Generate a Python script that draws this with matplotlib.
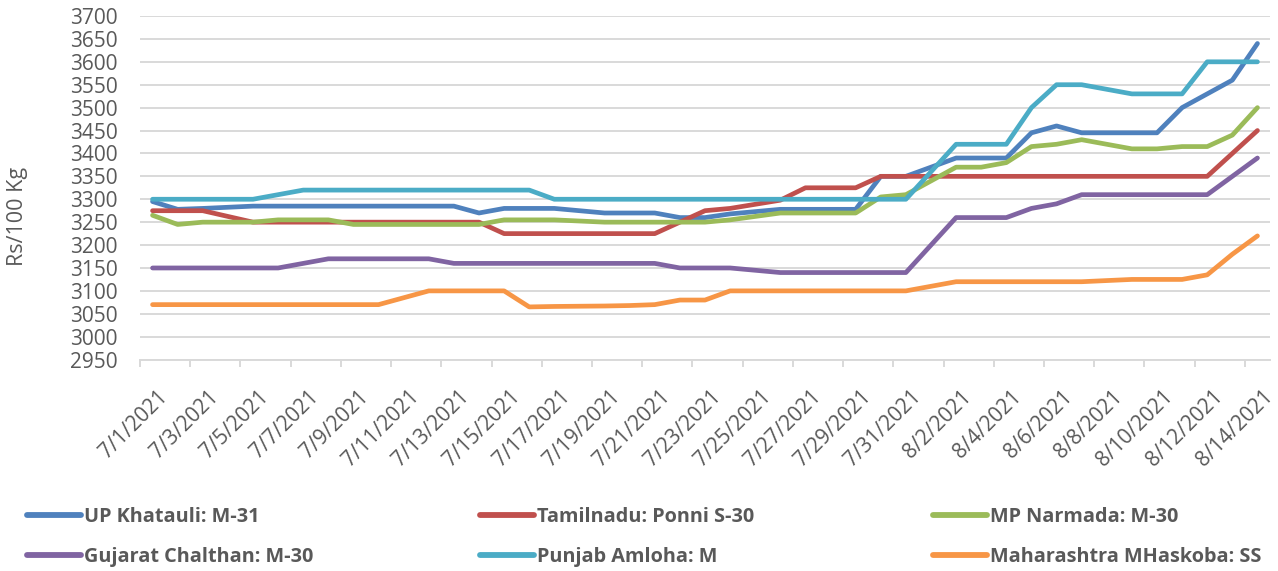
import numpy as np
import pandas as pd
import matplotlib
matplotlib.use('Agg')
import matplotlib.pyplot as plt
from matplotlib.lines import Line2D
from matplotlib.transforms import ScaledTranslation

# 일자 (일요일 제외)
dates = ['2021-07-01', '2021-07-02', '2021-07-03', '2021-07-05', '2021-07-06',
         '2021-07-07', '2021-07-08', '2021-07-09', '2021-07-10', '2021-07-12',
         '2021-07-13', '2021-07-14', '2021-07-15', '2021-07-16', '2021-07-17',
         '2021-07-19', '2021-07-20', '2021-07-21', '2021-07-22', '2021-07-23',
         '2021-07-24', '2021-07-26', '2021-07-27', '2021-07-28', '2021-07-29',
         '2021-07-30', '2021-07-31', '2021-08-02', '2021-08-03', '2021-08-04',
         '2021-08-05', '2021-08-06', '2021-08-07', '2021-08-09', '2021-08-10',
         '2021-08-11', '2021-08-12', '2021-08-13', '2021-08-14']

up_khatauli = [3295, 3278, 3280, 3285, 3285, 3285, 3285, 3285, 3285, 3285,
               3285, 3270, 3280, 3280, 3280, 3270, 3270, 3270, 3260, 3260,
               3268, 3278, 3278, 3278, 3278, 3350, 3350, 3390, 3390, 3390,
               3445, 3460, 3445, 3445, 3445, 3500, 3530, 3560, 3640]
tamilnadu = [3275, 3275, 3275, 3250, 3250, 3250, 3250, 3250, 3250, 3250,
             3250, 3250, 3225, 3225, 3225, 3225, 3225, 3225, 3250, 3275,
             3280, 3298, 3325, 3325, 3325, 3350, 3350, 3350, 3350, 3350,
             3350, 3350, 3350, 3350, 3350, 3350, 3350, 3400, 3450]
mp_narmada = [3265, 3245, 3250, 3250, 3255, 3255, 3255, 3245, 3245, 3245,
              3245, 3245, 3255, 3255, 3255, 3250, 3250, 3250, 3250, 3250,
              3255, 3270, 3270, 3270, 3270, 3305, 3310, 3370, 3370, 3380,
              3415, 3420, 3430, 3410, 3410, 3415, 3415, 3440, 3500]
gujarat = [3150, 3150, 3150, 3150, 3150, 3160, 3170, 3170, 3170, 3170,
           3160, 3160, 3160, 3160, 3160, 3160, 3160, 3160, 3150, 3150,
           3150, 3140, 3140, 3140, 3140, 3140, 3140, 3260, 3260, 3260,
           3280, 3290, 3310, 3310, 3310, 3310, 3310, 3350, 3390]
punjab = [3300, 3300, 3300, 3300, 3310, 3320, 3320, 3320, 3320, 3320,
          3320, 3320, 3320, 3320, 3300, 3300, 3300, 3300, 3300, 3300,
          3300, 3300, 3300, 3300, 3300, 3300, 3300, 3420, 3420, 3420,
          3500, 3550, 3550, 3530, 3530, 3530, 3600, 3600, 3600]
maharashtra = [3070, 3070, 3070, 3070, 3070, 3070, 3070, 3070, 3070, 3100,
               3100, 3100, 3100, 3065, 3066, 3067, 3068, 3070, 3080, 3080,
               3100, 3100, 3100, 3100, 3100, 3100, 3100, 3120, 3120, 3120,
               3120, 3120, 3120, 3125, 3125, 3125, 3135, 3180, 3220]

series = [
    ('UP Khatauli: M-31', up_khatauli, '#4F81BD'),
    ('Tamilnadu: Ponni S-30', tamilnadu, '#C0504D'),
    ('MP Narmada: M-30', mp_narmada, '#9BBB59'),
    ('Gujarat Chalthan: M-30', gujarat, '#8064A2'),
    ('Punjab Amloha: M', punjab, '#4BACC6'),
    ('Maharashtra MHaskoba: SS', maharashtra, '#F79646'),
]

gray = '#595959'
grid = '#D9D9D9'
plt.rcParams['font.family'] = ['Open Sans', 'DejaVu Sans']

x = pd.to_datetime(dates)
fig = plt.figure(figsize=(12.78, 5.71), dpi=100)
ax = fig.add_axes([140 / 1278, 1 - 359.6 / 571, 1130 / 1278, 343.6 / 571])

handles = {}
for name, vals, col in series:
    ln, = ax.plot(x, vals, color=col, lw=3.4, solid_capstyle='round',
                  solid_joinstyle='round', label=name)
    handles[name] = ln

half = pd.Timedelta(hours=12)
start, end = x[0], x[-1]
ax.set_xlim(start - half, end + half)
ax.set_ylim(2950, 3700)
ax.set_yticks(np.arange(2950, 3701, 50))
ax.yaxis.grid(True, color=grid, lw=1.4)
ax.set_axisbelow(True)

major = pd.date_range(start, end, freq='2D')
ax.set_xticks(major)
ax.set_xticklabels([f'{d.month}/{d.day}/{d.year}' for d in major])
ax.set_xticks(major - half, minor=True)
ax.tick_params(axis='x', which='major', length=0, pad=19, labelsize=15,
               labelcolor=gray)
ax.tick_params(axis='x', which='minor', length=5, width=1.4, color=grid)
ax.tick_params(axis='y', length=0, pad=16, labelsize=15, labelcolor=gray)

for lab in ax.get_xticklabels():
    lab.set_rotation(45)
    lab.set_ha('right')
    lab.set_va('top')
    lab.set_rotation_mode('anchor')
    lab.set_transform(lab.get_transform() + ScaledTranslation(5 / 100, 0, fig.dpi_scale_trans))

for s in ['top', 'right', 'left']:
    ax.spines[s].set_visible(False)
ax.spines['bottom'].set_color(grid)
ax.spines['bottom'].set_linewidth(1.4)

fig.text(18 / 1278, 1 - 216 / 571, 'Rs/100 Kg', rotation=90, ha='center',
         va='center', fontsize=15.5, color=gray)

# 범례: 3열 x 2행
cols = [(27, ['UP Khatauli: M-31', 'Gujarat Chalthan: M-30']),
        (480, ['Tamilnadu: Ponni S-30', 'Punjab Amloha: M']),
        (933, ['MP Narmada: M-30', 'Maharashtra MHaskoba: SS'])]
for xpos, names in cols:
    hs = [Line2D([], [], color=handles[n].get_color(), lw=4.2, solid_capstyle='round')
          for n in names]
    leg = fig.legend(hs, names, loc='upper left',
                     bbox_to_anchor=(xpos / 1278, 1 - 507 / 571),
                     frameon=False, borderpad=0, borderaxespad=0,
                     handlelength=2.7, handletextpad=0.15, labelspacing=1.0,
                     prop={'size': 14.3, 'weight': 'bold'})
    for t in leg.get_texts():
        t.set_color(gray)

fig.savefig('out.png', dpi=100)
